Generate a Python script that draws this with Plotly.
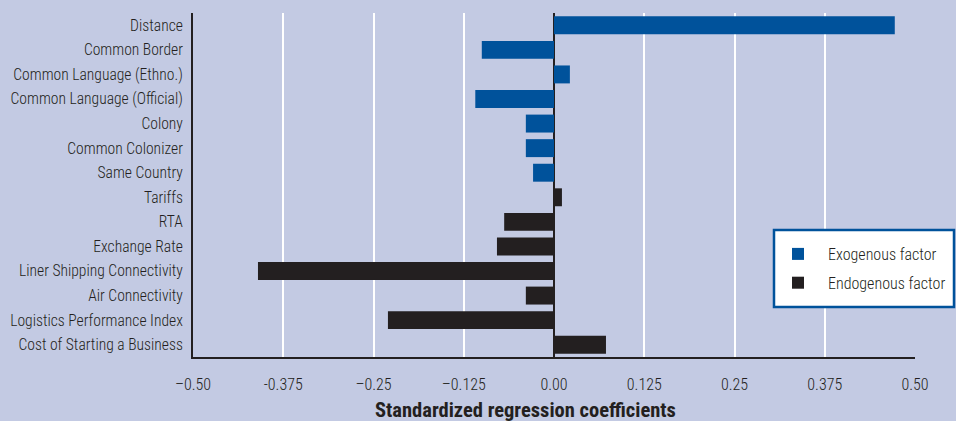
import plotly.graph_objects as go

exo_labels = ["Distance", "Common Border", "Common Language (Ethno.)",
              "Common Language (Official)", "Colony", "Common Colonizer", "Same Country"]
exo_values = [0.472, -0.100, 0.022, -0.109, -0.039, -0.039, -0.029]

endo_labels = ["Tariffs", "RTA", "Exchange Rate", "Liner Shipping Connectivity",
               "Air Connectivity", "Logistics Performance Index", "Cost of Starting a Business"]
endo_values = [0.011, -0.069, -0.079, -0.410, -0.039, -0.230, 0.072]

tick_vals = [-0.5, -0.375, -0.25, -0.125, 0.0, 0.125, 0.25, 0.375, 0.5]
tick_text = ["\u20130.50", "-0.375", "\u20130.25", "\u20130.125", "0.00", "0.125", "0.25", "0.375", "0.50"]

BG = "#c3cae3"
BLUE = "#00529b"
DARK = "#231f20"
FONT = "Roboto Condensed, Liberation Sans Narrow, Arial Narrow, sans-serif"

L, R, T, B = 193, 41, 13, 64
W, H = 956, 421
PW, PH = W - L - R, H - T - B

def px_x(x):
    return (x - L) / PW

def px_y(y):
    return (H - B - y) / PH

fig = go.Figure()
fig.add_trace(go.Bar(y=exo_labels, x=exo_values, orientation="h", name="Exogenous factor",
                     legendgroup="exo",
                     marker=dict(color=BLUE, line=dict(width=0)), width=0.73))
fig.add_trace(go.Bar(y=endo_labels, x=endo_values, orientation="h", name="Endogenous factor",
                     legendgroup="endo",
                     marker=dict(color=DARK, line=dict(width=0)), width=0.73))

fig.update_layout(
    width=W, height=H,
    paper_bgcolor=BG, plot_bgcolor=BG,
    margin=dict(l=L, r=R, t=T, b=B, autoexpand=False),
    barmode="overlay",
    font=dict(family=FONT, size=15, color=DARK, weight=300),
    showlegend=True,
    legend=dict(x=px_x(768), y=px_y(237), xanchor="left", yanchor="top",
                bgcolor="rgba(0,0,0,0)", borderwidth=0,
                font=dict(family=FONT, size=16, color=DARK, weight=300),
                itemwidth=50, tracegroupgap=5),
    xaxis=dict(range=[-0.5, 0.5], tickvals=tick_vals, ticktext=tick_text,
               showgrid=True, gridcolor="white", gridwidth=2,
               zeroline=True, zerolinecolor=DARK, zerolinewidth=2,
               showline=True, linecolor=DARK, linewidth=2, automargin=False,
               ticks="", ticklabelstandoff=12, fixedrange=True,
               tickfont=dict(family=FONT, size=16, color=DARK, weight=300)),
    yaxis=dict(categoryorder="array", categoryarray=exo_labels + endo_labels,
               autorange="reversed", showgrid=False, zeroline=False,
               showline=True, linecolor=DARK, linewidth=2, automargin=False,
               ticks="", ticklabelstandoff=5, fixedrange=True,
               tickfont=dict(family=FONT, size=15.6, color=DARK, weight=300)),
    shapes=[dict(type="rect", xref="paper", yref="paper",
                 x0=px_x(774), x1=px_x(954), y0=px_y(307), y1=px_y(230),
                 fillcolor="white", line=dict(color=BLUE, width=2.5), layer="above")],
    annotations=[dict(text="Standardized regression coefficients", xref="paper", yref="paper",
                      x=px_x(525), y=px_y(410), xanchor="center", yanchor="middle",
                      showarrow=False, font=dict(family=FONT, size=20.5, color=DARK, weight="bold"))],
)

fig.write_html("out.html", config={"displayModeBar": False},
               post_script="document.body.style.margin='0';")
